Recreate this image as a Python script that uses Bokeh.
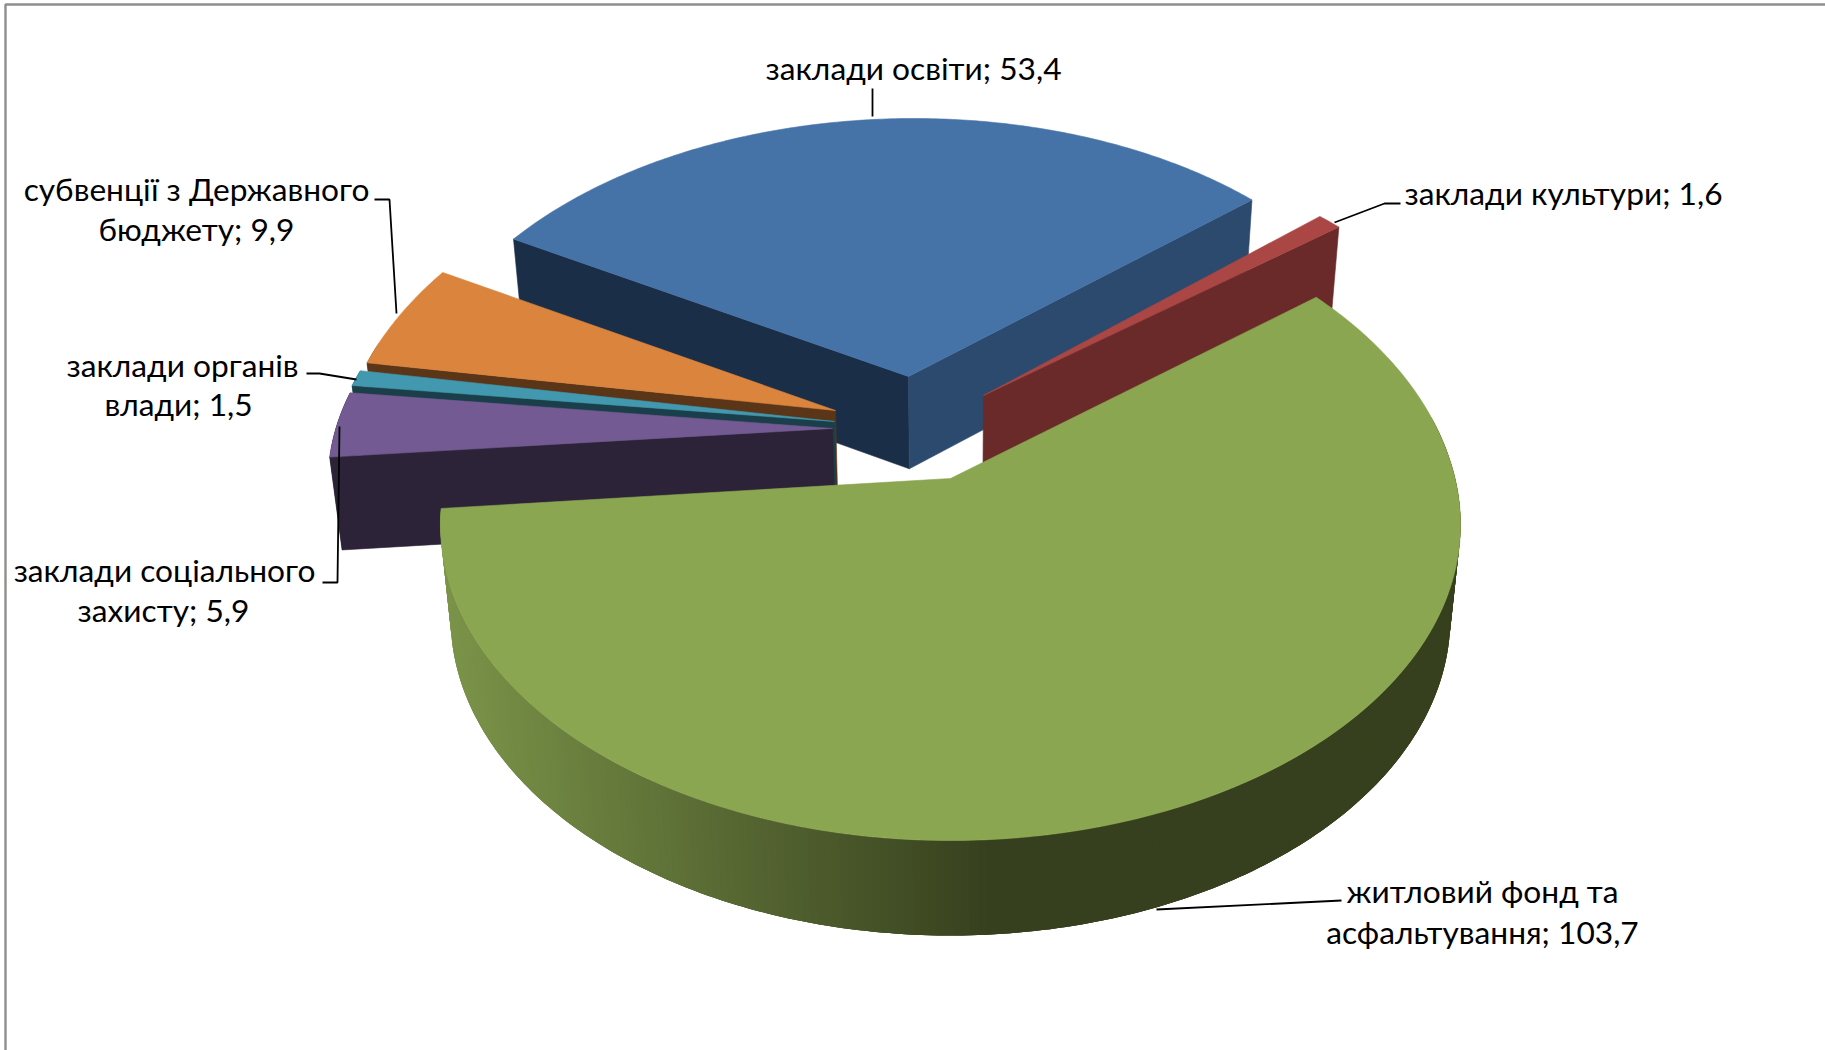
import math
from bokeh.plotting import figure
from bokeh.embed import file_html
from bokeh.resources import INLINE
from bokeh.core.properties import value

# ---- chart data ----
categories = ["заклади освіти", "заклади культури", "житловий фонд та асфальтування",
              "заклади соціального захисту", "заклади органів влади", "субвенції з Державного бюджету"]
values = [53.4, 1.6, 103.7, 5.9, 1.5, 9.9]
value_labels = ["53,4", "1,6", "103,7", "5,9", "1,5", "9,9"]

# ---- styling / geometry of the 3-D view ----
top_colors = ["#4673a7", "#aa4643", "#8ba650", "#735a92", "#4198af", "#db843d"]
dark_colors = ["#1b2e47", "#6b2a2a", "#37401e", "#2d2338", "#1a3f4a", "#5a3518"]
end_face_colors = ["#2c4a6e", "#6b2a2a", "#37401e", "#2d2338", "#1a3f4a", "#5a3518"]
apex_px = [(908, 376), (983, 395), (950, 478), (832, 428), (834, 421), (835, 410)]
radius_u = [1.025, 1.03, 1.0, 1.008, 1.012, 1.0]
radius_back = [1.055, 1.03, 1.05, 1.0, 1.0, 1.07]
radius_front = [1.055, 1.03, 1.0, 1.0, 1.0, 1.07]
# small view corrections of each slice's start and end direction, in degrees
start_adjust = [0, -1.0, 0, 0, 0.6, -0.6]
end_adjust = [0, -1.0, 0, 0.5, 0.6, -1.4]
draw_order = [0, 1, 5, 4, 3, 2]
ROTATION = 299.9
CX, CY = 950.0, 478.0
B, A, K = 504.6, 309.3, 0.1456
DEPTH = 93.0
SHRINK = 0.02
FONT = "Lato"
FONT_SIZE = "31.7px"
W, H = 1825, 1050


def to_disc(px, py):
    yy = py - CY
    v = yy / (A + K * yy)
    u = (px - CX) * (1 - K * v) / B
    return u, v


def project(u, v, z=0.0):
    w = 1 - K * v
    return (CX + B * u / w * (1 - SHRINK * z),
            CY + A * v / w + (DEPTH + 2 * v) * z)


total = sum(values)
starts, ends = [], []
acc = ROTATION
for i, x in enumerate(values):
    s = x / total * 360
    starts.append(acc + start_adjust[i])
    ends.append(acc + s + end_adjust[i])
    acc += s

p = figure(width=W, height=H, x_range=(0, W), y_range=(H, 0),
           output_backend="svg", toolbar_location=None, min_border=0)
p.margin = (0, 0, 0, 0)
p.axis.visible = False
p.grid.visible = False
p.outline_line_color = None


def rim(i, th, z=0.0):
    u0, v0 = to_disc(*apex_px[i])
    t = math.radians(th)
    c = math.cos(t)
    rv = radius_back[i] if c > 0 else radius_front[i]
    return project(u0 + radius_u[i] * math.sin(t), v0 - rv * c, z)


def apex(i, z=0.0):
    return project(*to_disc(*apex_px[i]), z)


def lerp_color(x):
    c0, c1 = (0x7b, 0x94, 0x49), (0x37, 0x40, 0x1e)
    f = min(1.0, max(0.0, (x - 440) / (990 - 440)))
    return "#%02x%02x%02x" % tuple(round(a + (b - a) * f) for a, b in zip(c0, c1))


def poly(pts, color, stroke=True):
    p.patch([q[0] for q in pts], [q[1] for q in pts], fill_color=color,
            line_color=color if stroke else None, line_width=0.6)


for i in draw_order:
    a0, a1 = starts[i], ends[i]
    span = a1 - a0
    # outer wall: overlapping strips, each overdrawn by the next, so no seams show
    n = max(2, int(span / 0.8))
    step = span / n
    for k_ in range(n):
        t0 = a0 + step * k_
        t1 = min(a1, t0 + 3 * step)
        if math.cos(math.radians(t0 + step / 2)) > 0.2:
            continue
        mid = [rim(i, t0 + (t1 - t0) * j / 3) for j in range(4)]
        low = [rim(i, t0 + (t1 - t0) * j / 3, 1) for j in range(3, -1, -1)]
        col = lerp_color(rim(i, t0 + step / 2)[0]) if i == 2 else dark_colors[i]
        poly(mid + low, col, stroke=False)
    # cut faces that look towards the viewer
    if -math.cos(math.radians(a0 - 90)) > 0:
        poly([apex(i), rim(i, a0), rim(i, a0, 1), apex(i, 1)], dark_colors[i])
    if -math.cos(math.radians(a1 + 90)) > 0:
        poly([apex(i), rim(i, a1), rim(i, a1, 1), apex(i, 1)], end_face_colors[i])
    # top
    m = max(2, int(span / 0.6))
    top = [apex(i)] + [rim(i, a0 + span * j / m) for j in range(m + 1)]
    poly(top, top_colors[i])

# leader lines
leaders = [
    ([872, 872], [88, 116]),
    ([1400, 1384, 1334], [203, 203, 222]),
    ([374, 389, 396], [199, 199, 313]),
    ([306, 319, 356], [373, 373, 379]),
    ([322, 337, 339], [582, 582, 426]),
    ([1341, 1156], [900, 909]),
]
for xs, ys in leaders:
    p.line(xs, ys, line_color="#000000", line_width=1.8)

# frame
p.line([5, 5, W], [H, 4, 4], line_color="#8e8e8e", line_width=2.4)

# labels
label_lines = [
    [f"{categories[0]}; {value_labels[0]}"],
    [f"{categories[1]}; {value_labels[1]}"],
    ["житловий фонд та", f"асфальтування; {value_labels[2]}"],
    ["заклади соціального", f"захисту; {value_labels[3]}"],
    ["заклади органів", f"влади; {value_labels[4]}"],
    ["субвенції з Державного", f"бюджету; {value_labels[5]}"],
]
label_pos = [
    [(913, 67)], [(1563, 192)],
    [(1482, 890), (1482, 931)],
    [(164, 569), (163, 609)],
    [(182, 364), (178, 403)],
    [(196, 188), (196, 228)],
]
for lines, pos in zip(label_lines, label_pos):
    for t, (x, y) in zip(lines, pos):
        p.text([x], [y], text=[t], text_font=value(FONT), text_font_size=FONT_SIZE,
               text_align="center", text_baseline="middle", text_color="#000000")

open("out.html", "w").write(file_html(p, INLINE))
